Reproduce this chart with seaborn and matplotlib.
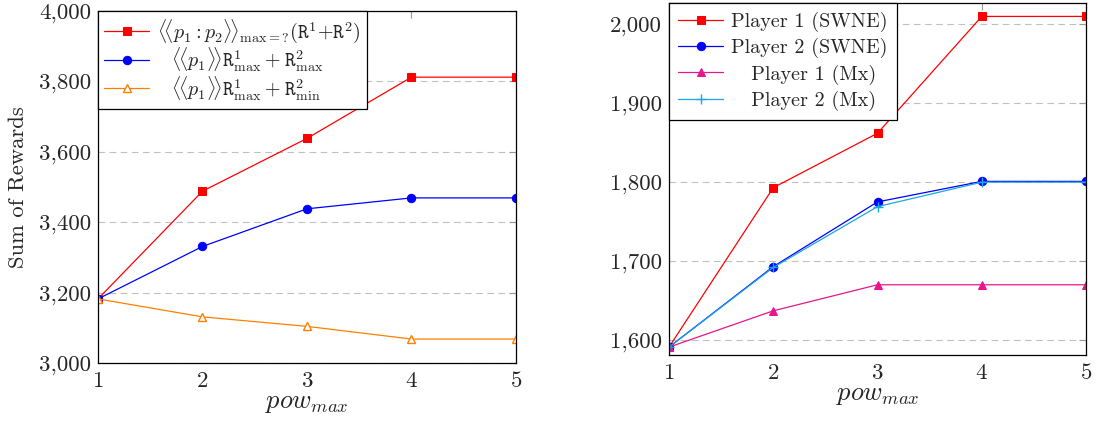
import matplotlib
matplotlib.use('Agg')
import matplotlib.pyplot as plt
import matplotlib.ticker as mticker
import seaborn as sns
import pandas as pd

# data
pow_max = [1, 2, 3, 4, 5]

# left panel
coop_sum = [3182, 3488, 3638, 3812, 3812]
p1_max_max = [3182, 3331, 3438, 3469, 3469]
p1_max_min = [3182, 3131, 3104, 3068, 3068]

# right panel
p1_swne = [1591, 1793, 1862, 2010, 2010]
p2_swne = [1591, 1693, 1775, 1801, 1801]
p1_mx = [1591, 1637, 1670, 1670, 1670]
p2_mx = [1591, 1692, 1769, 1800, 1800]

left_labels = [
    r'$\langle\!\langle p_{\mathit{1}}{:}p_{\mathit{2}}\rangle\!\rangle_{\mathrm{max}=?}(\mathtt{R}^1{+}\mathtt{R}^2)$',
    r'$\ \ \,\langle\!\langle p_{\mathit{1}}\rangle\!\rangle\mathtt{R}^1_{\mathrm{max}}+\mathtt{R}^2_{\mathrm{max}}$',
    r'$\ \ \,\langle\!\langle p_{\mathit{1}}\rangle\!\rangle\mathtt{R}^1_{\mathrm{max}}+\mathtt{R}^2_{\mathrm{min}}$',
]
# leading spaces mimic the centred legend text of the original
right_labels = ['Player 1 (SWNE)', 'Player 2 (SWNE)', '   Player 1 (Mx)', '   Player 2 (Mx)']

sns.set_style('white')
plt.rcParams['font.family'] = ['cmr10', 'DejaVu Serif']
plt.rcParams['mathtext.fontset'] = 'cm'
plt.rcParams['axes.formatter.use_mathtext'] = True

fig = plt.figure(figsize=(10.96, 4.24), dpi=100)
ax1 = fig.add_axes([0.0894, 0.1439, 0.3814, 0.8302])
ax2 = fig.add_axes([0.6104, 0.1627, 0.3805, 0.8302])

df_l = pd.DataFrame({'pow': pow_max, 'a': coop_sum, 'b': p1_max_max, 'c': p1_max_min})
df_r = pd.DataFrame({'pow': pow_max, 'a': p1_swne, 'b': p2_swne, 'c': p1_mx, 'd': p2_mx})

lw = 0.9
sns.lineplot(data=df_l, x='pow', y='a', ax=ax1, color='#ff0000', marker='s', markersize=5.5,
             mec='#ff0000', lw=lw, label=left_labels[0])
sns.lineplot(data=df_l, x='pow', y='b', ax=ax1, color='#0000ff', marker='o', markersize=6,
             mec='#0000ff', lw=lw, label=left_labels[1])
sns.lineplot(data=df_l, x='pow', y='c', ax=ax1, color='#ff8000', marker='^', markersize=6,
             mfc='white', mec='#ff8000', mew=1.0, lw=lw, label=left_labels[2])

sns.lineplot(data=df_r, x='pow', y='a', ax=ax2, color='#ff0000', marker='s', markersize=5.5,
             mec='#ff0000', lw=lw, label=right_labels[0])
sns.lineplot(data=df_r, x='pow', y='b', ax=ax2, color='#0000ff', marker='o', markersize=6,
             mec='#0000ff', lw=lw, label=right_labels[1])
sns.lineplot(data=df_r, x='pow', y='c', ax=ax2, color='#e8168c', marker='^', markersize=5.5,
             mec='#e8168c', lw=lw, label=right_labels[2])
sns.lineplot(data=df_r, x='pow', y='d', ax=ax2, color='#1aa8e0', marker='+', markersize=7,
             mec='#1aa8e0', mew=1.0, lw=lw, label=right_labels[3])

ax1.set_xlim(1, 5)
ax1.set_ylim(3000, 4000)
ax1.set_yticks([3000, 3200, 3400, 3600, 3800, 4000])
ax2.set_xlim(1, 5)
ax2.set_ylim(1581, 2027)
ax2.set_yticks([1600, 1700, 1800, 1900, 2000])

for ax in (ax1, ax2):
    ax.set_xticks(pow_max)
    ax.yaxis.set_major_formatter(mticker.FuncFormatter(lambda v, p: f'{int(v):,}'))
    ax.tick_params(direction='in', length=5, width=0.8, color='#999999',
                   top=True, right=True, labelsize=16.5, pad=5)
    ax.tick_params(axis='x', pad=6)
    ax.yaxis.grid(True, linestyle=(0, (6, 4)), color='#c0c0c0', lw=0.8)
    ax.xaxis.grid(False)
    ax.set_axisbelow(True)
    for s in ax.spines.values():
        s.set_color('black')
        s.set_linewidth(0.9)
    ax.set_xlabel(r'$pow_{max}$', fontsize=19, labelpad=0)
    ax.set_ylabel('')

leg_opts = dict(loc='upper left', borderaxespad=0, fancybox=False, framealpha=1,
                edgecolor='black', handlelength=2.25, fontsize=14.5, handletextpad=0.4)
leg1 = ax1.legend(borderpad=0.3, labelspacing=0.0, **leg_opts)
leg2 = ax2.legend(borderpad=0.45, labelspacing=0.3, **leg_opts)
for leg in (leg1, leg2):
    leg.get_frame().set_linewidth(0.9)
    for line in leg.get_lines():
        line.set_linewidth(lw)

ax1.set_ylabel('Sum of Rewards', fontsize=16.3, labelpad=8)

fig.savefig('out.png', dpi=100)
